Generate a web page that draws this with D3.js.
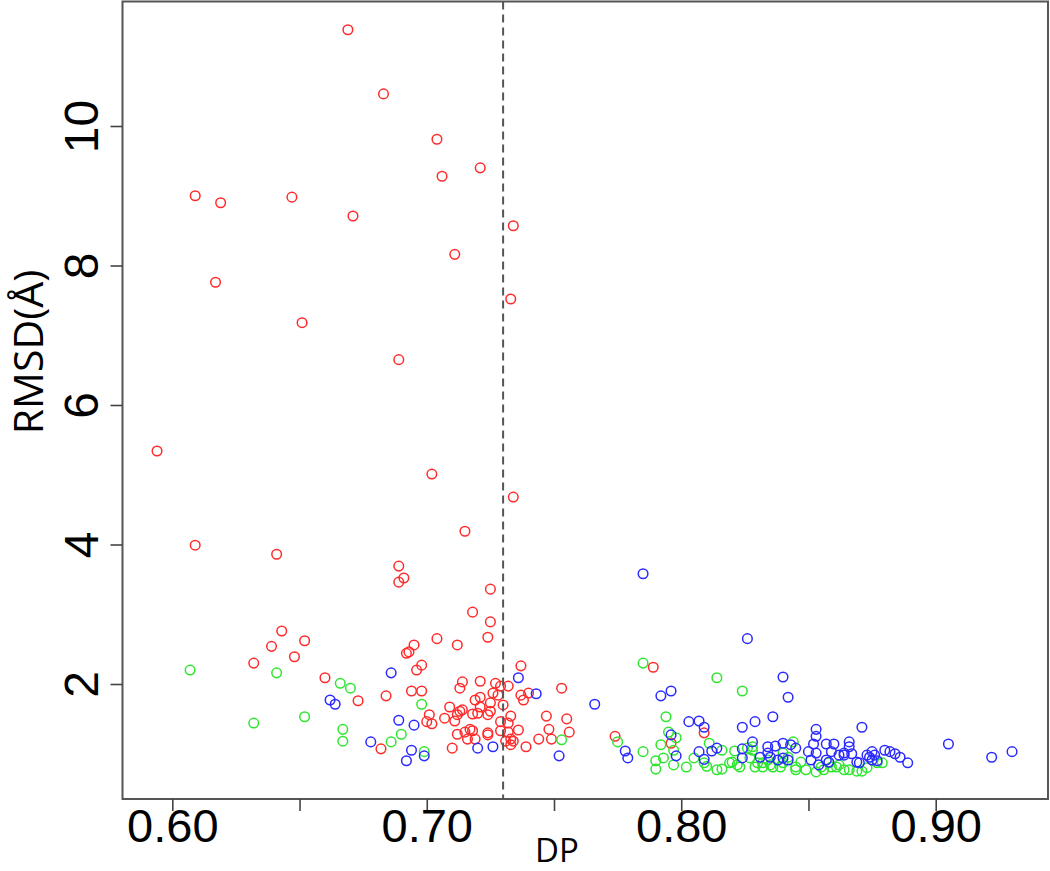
<!DOCTYPE html>
<html>
<head>
<meta charset="utf-8">
<script src="https://cdn.jsdelivr.net/npm/d3@7"></script>
<style>
html,body{margin:0;padding:0;background:#fff;}
svg{display:block;}
</style>
</head>
<body>
<svg id="chart" width="1050" height="871"></svg>
<script>
// ---- data ----
const redX = [0.669,0.683,0.704,0.706,0.721,0.609,0.619,0.647,0.671,0.734,0.711,0.617,0.733,0.651,0.689,0.594,0.702,0.734,0.715,0.609,0.641,
0.689,0.691,0.689,0.725,0.718,0.725,0.724,0.704,0.712,0.643,0.639,0.652,0.648,0.632,0.695,0.693,0.692,0.698,0.696,0.737,0.660,0.714,0.713,0.721,0.727,0.729,0.732,0.726,0.728,0.737,0.740,0.738,0.753,0.694,0.698,0.684,0.673,0.719,0.721,0.730,0.725,0.721,0.709,0.714,0.713,0.725,0.718,0.720,0.724,0.712,0.701,0.707,0.711,0.700,0.702,0.733,0.729,0.732,0.747,0.755,0.748,0.756,0.736,0.729,0.732,0.712,0.715,0.717,0.718,0.716,0.719,0.724,0.724,0.733,0.734,0.731,0.733,0.739,0.744,0.749,0.710,0.682,0.774,0.789,0.796,0.809];
const redY = [11.38,10.46,9.81,9.28,9.40,9.00,8.90,8.98,8.71,8.57,8.16,7.76,7.52,7.18,6.65,5.34,5.01,4.68,4.19,3.99,3.86,
3.69,3.52,3.46,3.36,3.03,2.89,2.67,2.65,2.56,2.76,2.54,2.62,2.39,2.30,2.56,2.46,2.44,2.27,2.20,2.26,2.09,2.03,1.94,2.04,2.01,1.97,1.97,1.87,1.84,1.84,1.87,1.77,1.94,1.90,1.90,1.83,1.76,1.77,1.81,1.70,1.73,1.67,1.67,1.63,1.61,1.61,1.57,1.58,1.56,1.56,1.56,1.51,1.47,1.46,1.43,1.54,1.46,1.44,1.54,1.50,1.35,1.31,1.34,1.33,1.31,1.28,1.31,1.35,1.33,1.21,1.21,1.30,1.27,1.21,1.18,1.18,1.13,1.10,1.21,1.21,1.08,1.07,1.25,2.24,1.15,1.30];

const greenX = [0.607,0.641,0.666,0.670,0.632,0.652,0.667,0.667,0.690,0.686,0.698,0.699,0.753,0.785,0.814,0.824,0.794,0.775,0.795,0.798,0.792,0.797,0.785,0.790,0.793,0.790,0.797,0.802,0.805,0.811,0.816,0.809,0.810,0.814,0.816,0.819,0.820,0.822,0.823,0.821,0.826,0.828,0.827,0.829,0.830,0.832,0.835,0.836,0.840,0.845,0.845,0.847,0.849,0.853,0.856,0.859,0.862,0.864,0.866,0.869,0.871,0.873,0.879,0.844,0.834,0.832,0.839,0.855,0.861,0.877,0.840,0.842,0.858,0.828];
const greenY = [2.20,2.16,2.01,1.94,1.44,1.53,1.35,1.18,1.28,1.17,1.71,1.03,1.20,2.30,2.09,1.90,1.53,1.17,1.31,1.23,1.13,1.05,1.03,0.90,0.94,0.78,0.84,0.81,0.94,1.15,1.05,0.87,0.82,0.77,0.78,0.87,0.88,0.84,0.81,1.04,1.08,1.05,0.94,0.81,0.87,0.81,0.84,0.81,0.87,0.81,0.77,0.88,0.77,0.74,0.77,0.81,0.84,0.77,0.77,0.75,0.75,0.80,0.87,1.17,0.91,0.87,0.81,0.81,0.81,0.87,1.01,0.95,0.87,1.10];

const blueX = [0.686,0.662,0.664,0.689,0.695,0.678,0.694,0.692,0.699,0.720,0.726,0.736,0.743,0.766,0.752,0.785,0.826,0.792,0.796,0.803,0.807,0.809,0.824,0.829,0.796,0.798,0.778,0.779,0.807,0.809,0.812,0.814,0.824,0.824,0.828,0.840,0.842,0.836,0.853,0.853,0.871,0.840,0.843,0.845,0.837,0.834,0.834,0.835,0.852,0.857,0.860,0.866,0.866,0.859,0.862,0.864,0.864,0.853,0.851,0.854,0.857,0.858,0.869,0.870,0.873,0.874,0.875,0.876,0.875,0.877,0.880,0.882,0.884,0.886,0.889,0.838,0.840,0.842,0.831,0.850,0.905,0.922,0.930,0.867];
const blueY = [2.16,1.77,1.71,1.48,1.41,1.17,1.05,0.90,0.97,1.08,1.10,2.09,1.86,1.71,0.97,3.58,2.65,1.83,1.90,1.46,1.47,1.38,1.38,1.46,1.27,0.97,1.04,0.94,1.03,0.92,1.04,1.08,1.07,0.94,1.17,2.10,1.81,1.53,1.35,1.25,1.38,1.15,1.13,1.08,1.11,1.10,1.01,0.95,1.14,1.14,1.14,1.17,1.10,1.03,0.98,0.98,1.01,1.01,0.91,0.84,0.91,0.88,0.88,0.87,0.98,0.95,1.03,0.98,0.91,0.90,1.05,1.03,1.00,0.95,0.87,0.91,0.94,0.91,0.95,1.03,1.14,0.95,1.03,1.00];

const xTicks = [0.60,0.65,0.70,0.75,0.80,0.85,0.90];
const xTickLabels = ["0.60","","0.70","","0.80","","0.90"];
const yTicks = [2,4,6,8,10];
const yTickLabels = ["2","4","6","8","10"];
const cutoffDP = 0.73;
const xTitle = "DP";
const yTitle = "RMSD(Å)";

const seriesColors = ["#ff2a2a", "#2ee62e", "#2a2aff"];
const seriesData = [
  {x: redX, y: redY, color: seriesColors[0]},
  {x: greenX, y: greenY, color: seriesColors[1]},
  {x: blueX, y: blueY, color: seriesColors[2]}
];

// ---- layout ----
const box = {left: 122.5, top: 1.5, right: 1048, bottom: 799};
const svg = d3.select("#chart");

const x = d3.scaleLinear().domain([0.60, 0.90]).range([172.3, 935.7]);
const y = d3.scaleLinear().domain([2, 10]).range([684, 126]);

// points
const gPts = svg.append("g");
seriesData.forEach(s => {
  gPts.append("g").selectAll("circle")
    .data(s.x.map((v, i) => [v, s.y[i]]))
    .join("circle")
    .attr("cx", d => x(d[0]))
    .attr("cy", d => y(d[1]))
    .attr("r", 4.8)
    .attr("fill", "none")
    .attr("stroke", s.color)
    .attr("stroke-width", 1.5);
});

// dashed cutoff line
svg.append("line")
  .attr("x1", x(cutoffDP)).attr("x2", x(cutoffDP))
  .attr("y1", box.top).attr("y2", box.bottom)
  .attr("stroke", "#555").attr("stroke-width", 2)
  .attr("stroke-dasharray", "8,5");

// box
svg.append("rect")
  .attr("x", box.left).attr("y", box.top)
  .attr("width", box.right - box.left).attr("height", box.bottom - box.top)
  .attr("fill", "none").attr("stroke", "#555").attr("stroke-width", 2);

// x axis
const xAxis = d3.axisBottom(x)
  .tickValues(xTicks)
  .tickSize(12)
  .tickFormat((d, i) => xTickLabels[i]);
const gx = svg.append("g").attr("transform", `translate(0,${box.bottom})`).call(xAxis);
gx.select(".domain").remove();
gx.selectAll(".tick line").attr("stroke", "#444").attr("stroke-width", 1.6);
gx.selectAll(".tick text")
  .attr("y", 43).attr("dy", null)
  .attr("fill", "#000")
  .style("font-family", "'Liberation Sans', Arial, sans-serif")
  .style("font-size", "47px");

// y axis
const yAxis = d3.axisLeft(y)
  .tickValues(yTicks)
  .tickSize(12)
  .tickFormat((d, i) => yTickLabels[i]);
const gy = svg.append("g").attr("transform", `translate(${box.left},0)`).call(yAxis);
gy.select(".domain").remove();
gy.selectAll(".tick line").attr("stroke", "#444").attr("stroke-width", 1.6);
gy.selectAll(".tick text")
  .attr("x", 0).attr("y", -25).attr("dy", null)
  .attr("transform", "rotate(-90)")
  .attr("text-anchor", "middle")
  .attr("fill", "#000")
  .style("font-family", "'Liberation Sans', Arial, sans-serif")
  .style("font-size", "48px");

// titles
svg.append("text")
  .attr("x", 557).attr("y", 862)
  .attr("text-anchor", "middle")
  .style("font-family", "'Open Sans', sans-serif")
  .style("font-size", "33px")
  .text(xTitle);

svg.append("text")
  .attr("transform", "translate(43,352) rotate(-90)")
  .attr("text-anchor", "middle")
  .style("font-family", "'Open Sans', sans-serif")
  .style("font-size", "41px")
  .text(yTitle);
</script>
</body>
</html>
